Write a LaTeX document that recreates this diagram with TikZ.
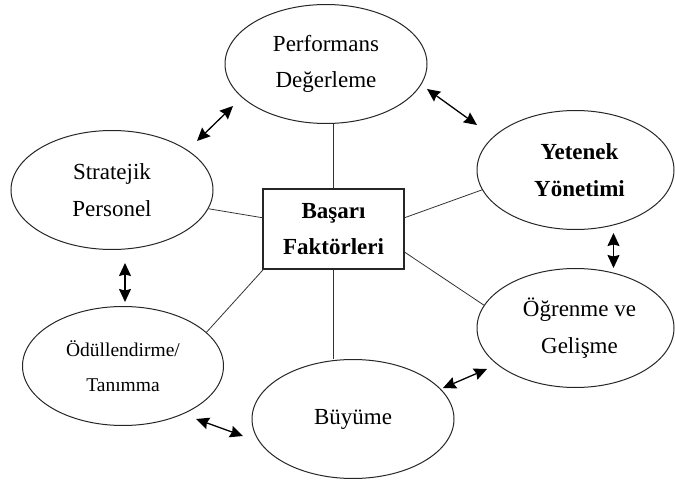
\documentclass[tikz,border=0pt]{standalone}
\usepackage{fontspec}
\setmainfont{Liberation Serif}
\usetikzlibrary{arrows.meta,shapes.geometric}
\begin{document}
\begin{tikzpicture}[x=1pt,y=-1pt,
  oval/.style={draw=black!85,line width=1pt,ellipse,inner sep=0pt,
    minimum width=#1,minimum height=119pt,align=center,
    font=\fontsize{23}{36.5}\selectfont},
  oval/.default=202pt,
  box/.style={draw=black!85,line width=1.1pt,rectangle,inner sep=0pt,
    minimum width=141pt,minimum height=80pt,align=center,
    font=\bfseries\fontsize{23}{36.5}\selectfont},
  link/.style={black!80,line width=0.8pt},
  tip/.style={Stealth[length=13pt,width=12pt,inset=1.5pt]},
  both/.style={black,line width=1.3pt,{Stealth[length=13pt,width=12pt,inset=1.5pt]}-{Stealth[length=13pt,width=12pt,inset=1.5pt]}}]
\useasboundingbox (0,0) rectangle (675,481);
\node[box] (basari) at (333.5,229) {Başarı\\Faktörleri};
\node[oval] (perf) at (326,64) {Performans\\Değerleme};
\node[oval] (strat) at (112,190) {Stratejik\\Personel};
\node[oval=197pt,font=\bfseries\fontsize{23}{36.5}\selectfont] (yet) at (575.5,170) {\hspace*{8pt}Yetenek\\\hspace*{8pt}Yönetimi};
\node[oval=197pt] (ogr) at (575.5,328) {\hspace*{8pt}Öğrenme ve\\\hspace*{8pt}Gelişme};
\node[oval=201pt,font=\fontsize{19.5}{35}\selectfont] (odul) at (123,366) {Ödüllendirme/\\Tanımma};
\node[oval] (buy) at (353,419) {Büyüme};
% connectors to centre box
\draw[link] (basari.north) -- (basari.north |- perf.south);
\draw[link] (basari.south) -- (basari.south |- buy.north);
\draw[link] (strat.-11) -- (basari.171);
\draw[link] (yet.-168.5) -- (basari.9.5);
\draw[link] (ogr.166.6) -- (basari.-18.6);
\draw[link] (odul.22.7) -- (basari.210.2);
% free double arrows
\coordinate (a1) at (197,141); \coordinate (a2) at (233,106);
\coordinate (b1) at (427,89);  \coordinate (b2) at (477,125);
\coordinate (c1) at (613.5,233); \coordinate (c2) at (613.5,268);
\coordinate (d1) at (125,263); \coordinate (d2) at (125,302);
\coordinate (e1) at (443,388); \coordinate (e2) at (487,369);
\coordinate (f1) at (196,419); \coordinate (f2) at (243,436);
\draw[both] (a1) -- (a2);
\draw[both] (b1) -- (b2);
\draw[both] (c1) -- (c2);
\draw[both] (d1) -- (d2);
\draw[both] (e1) -- (e2);
\draw[both] (f1) -- (f2);
\end{tikzpicture}
\end{document}
